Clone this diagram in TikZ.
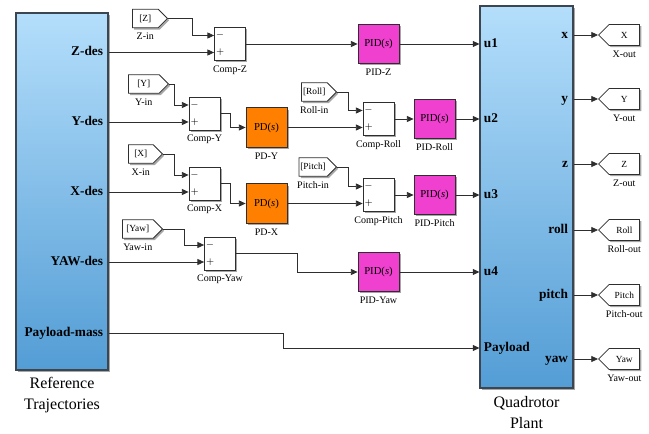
\documentclass[tikz,border=0pt]{standalone}
\usepackage{fontspec}
\setmainfont{Liberation Serif}
\newfontfamily\timesface{Liberation Serif}
\usetikzlibrary{arrows.meta,calc,shapes.symbols,shadows}
\definecolor{cline}{HTML}{2E2E2E}
\definecolor{cedge}{HTML}{3C4650}
\definecolor{skytop}{HTML}{B4DEFB}
\definecolor{skybot}{HTML}{539DD5}
\definecolor{corange}{HTML}{FF8000}
\definecolor{cmagenta}{HTML}{F040D0}

\begin{document}
\begin{tikzpicture}[x=0.75pt, y=-0.75pt,
  font=\timesface\fontsize{7.5}{9}\selectfont,
  label distance=2.5pt,
  wire/.style={draw=cline, line width=0.6pt},
  arr/.style={wire, -{Triangle[length=5pt, width=4.5pt]}},
  shadowed/.style={drop shadow={shadow xshift=1.3pt, shadow yshift=-1.3pt, fill=black, opacity=0.35}},
  plantbox/.style={draw=cedge, line width=0.8pt, top color=skytop, bottom color=skybot, shadowed, inner sep=0pt},
  sumbox/.style={draw=cline, line width=0.6pt, fill=white, minimum width=23.25pt, minimum height=24.75pt, inner sep=0pt, shadowed},
  ctrlbox/.style={draw=cline, line width=0.6pt, minimum width=30.75pt, minimum height=29.5pt, inner sep=0pt, font=\timesface\fontsize{8}{9}\selectfont, shadowed},
  fromtag/.style={signal, signal to=east, anchor=east, draw=cline, line width=0.6pt, fill=white, minimum height=14pt, inner sep=1pt, font=\timesface\fontsize{7}{8}\selectfont, shadowed},
  gototag/.style={signal, signal to=west, anchor=west, draw=cline, line width=0.6pt, fill=white, minimum width=30.75pt, minimum height=15.75pt, inner sep=1pt, font=\timesface\fontsize{7}{8}\selectfont, shadowed},
  lbl/.style={font=\timesface\fontsize{7.5}{9}\selectfont, inner sep=1pt},
  sgn/.style={font=\timesface\fontsize{7}{8}\selectfont, inner sep=0pt},
  portl/.style={anchor=east, font=\timesface\fontsize{10}{12}\selectfont\bfseries, inner sep=0.5pt, text height=7pt, text depth=2pt},
  portr/.style={portl, anchor=west},
  captxt/.style={align=center, font=\timesface\fontsize{12}{15.75}\selectfont},
]
\useasboundingbox (0,0) rectangle (649,434);

% main blocks
\node[plantbox, minimum width=69pt, minimum height=267.75pt] (ref) at (62,191.5) {};
\node[plantbox, minimum width=69.75pt, minimum height=286.5pt] (plant) at (526.5,197) {};
\node[captxt] (refcap) at (62,395.5) {Reference\\Trajectories};
\node[captxt] (plantcap) at (526.5,413) {Quadrotor\\Plant};

% ports
\node[portl] (zdes) at (104,52.5) {Z-des};
\node[portl] (ydes) at (104,122) {Y-des};
\node[portl] (xdes) at (104,192) {X-des};
\node[portl] (yawdes) at (104,262) {YAW-des};
\node[portl] (pmass) at (104,333) {Payload-mass};
\node[portr] (u1) at (483,44) {u1};
\node[portr] (u2) at (483,119) {u2};
\node[portr] (u3) at (483,195) {u3};
\node[portr] (u4) at (483,272) {u4};
\node[portr] (pload) at (483,348) {Payload};
\node[portl] (xo) at (569,35) {x};
\node[portl] (yo) at (569,99) {y};
\node[portl] (zo) at (569,164) {z};
\node[portl] (rollo) at (569,230) {roll};
\node[portl] (pitcho) at (569,295) {pitch};
\node[portl] (yawo) at (569,359) {yaw};

% comparators
\node[sumbox, label={[lbl]below:Comp-Z}] (compz) at (230,44) {};
\node[sumbox, label={[lbl]below:Comp-Y}] (compy) at (204.5,113.5) {};
\node[sumbox, label={[lbl]below:Comp-X}] (compx) at (204.5,183.5) {};
\node[sumbox, label={[lbl]below:Comp-Yaw}] (compyaw) at (220,253.5) {};
\node[sumbox, label={[lbl]below:Comp-Roll}] (comproll) at (378.5,119) {};
\node[sumbox, label={[lbl]below:Comp-Pitch}] (comppitch) at (378.5,195) {};
\foreach \cmp in {compz,compy,compx,compyaw,comproll,comppitch}{
  \coordinate (\cmp neg) at ($(\cmp.west)+(0,-8.5)$);
  \coordinate (\cmp pos) at ($(\cmp.west)+(0,8.5)$);
  \node[sgn] (\cmp mi) at ($(\cmp neg)+(6,0)$) {$-$};
  \node[sgn] (\cmp pl) at ($(\cmp pos)+(6,0)$) {$+$};
}

% controllers
\node[ctrlbox, fill=corange, label={[lbl]below:PD-Y}] (pdy) at (266.5,127.5) {PD(\textit{s})};
\node[ctrlbox, fill=corange, label={[lbl]below:PD-X}] (pdx) at (266.5,203.5) {PD(\textit{s})};
\node[ctrlbox, fill=cmagenta, label={[lbl]below:PID-Z}] (pidz) at (378.5,44) {PID(\textit{s})};
\node[ctrlbox, fill=cmagenta, label={[lbl]below:PID-Roll}] (pidroll) at (434.5,119) {PID(\textit{s})};
\node[ctrlbox, fill=cmagenta, label={[lbl]below:PID-Pitch}] (pidpitch) at (434.5,195) {PID(\textit{s})};
\node[ctrlbox, fill=cmagenta, label={[lbl]below:PID-Yaw}] (pidyaw) at (378.5,272) {PID(\textit{s})};

% from tags
\node[fromtag, minimum width=26.25pt, label={[lbl]below:Z-in}] (zin) at (168,18.5) {[Z]};
\node[fromtag, minimum width=30pt, label={[lbl]below:Y-in}] (yin) at (169,84) {[Y]};
\node[fromtag, minimum width=25.5pt, label={[lbl]below:X-in}] (xin) at (163,154) {[X]};
\node[fromtag, minimum width=30pt, label={[lbl]below:Yaw-in}] (yawin) at (163,229) {[Yaw]};
\node[fromtag, minimum width=26.25pt, label={[lbl]below:Roll-in}] (rollin) at (337,92) {[Roll]};
\node[fromtag, minimum width=26.25pt, label={[lbl]below:Pitch-in}] (pitchin) at (337,167) {[Pitch]};

% goto tags
\node[gototag, label={[lbl]below:X-out}] (xout) at (598,35) {X};
\node[gototag, label={[lbl]below:Y-out}] (yout) at (598,99) {Y};
\node[gototag, label={[lbl]below:Z-out}] (zout) at (598,164) {Z};
\node[gototag, label={[lbl]below:Roll-out}] (rollout) at (598,230) {Roll};
\node[gototag, label={[lbl]below:Pitch-out}] (pitchout) at (598,295) {Pitch};
\node[gototag, label={[lbl]below:Yaw-out}] (yawout) at (598,359) {Yaw};

% Z loop
\draw[arr] (zin.east) -- ++(24,0) |- (compzneg);
\draw[arr] (zdes -| ref.east) -- (compzpos);
\draw[arr] (compz.east) -- (pidz.west);
\draw[arr] (pidz.east) -- (u1 -| plant.west);
% Y / roll loop
\draw[arr] (yin.east) -- ++(5,0) |- (compyneg);
\draw[arr] (ydes -| ref.east) -- (compypos);
\draw[arr] (compy.east) -- ++(10,0) |- (pdy.west);
\draw[arr] (pdy.east) -- (comprollpos);
\draw[arr] (rollin.east) -- ++(11,0) |- (comprollneg);
\draw[arr] (comproll.east) -- (pidroll.west);
\draw[arr] (pidroll.east) -- (u2 -| plant.west);
% X / pitch loop
\draw[arr] (xin.east) -- ++(11,0) |- (compxneg);
\draw[arr] (xdes -| ref.east) -- (compxpos);
\draw[arr] (compx.east) -- ++(10,0) |- (pdx.west);
\draw[arr] (pdx.east) -- (comppitchpos);
\draw[arr] (pitchin.east) -- ++(11,0) |- (comppitchneg);
\draw[arr] (comppitch.east) -- (pidpitch.west);
\draw[arr] (pidpitch.east) -- (u3 -| plant.west);
% yaw loop
\draw[arr] (yawin.east) -- ++(21,0) |- (compyawneg);
\draw[arr] (yawdes -| ref.east) -- (compyawpos);
\draw[arr] (compyaw.east) -- ++(61,0) |- (pidyaw.west);
\draw[arr] (pidyaw.east) -- (u4 -| plant.west);
% payload
\draw[arr] (pmass -| ref.east) -- ++(175,0) |- (pload -| plant.west);

% outputs
\draw[arr] (xo -| plant.east) -- (xout.west);
\draw[arr] (yo -| plant.east) -- (yout.west);
\draw[arr] (zo -| plant.east) -- (zout.west);
\draw[arr] (rollo -| plant.east) -- (rollout.west);
\draw[arr] (pitcho -| plant.east) -- (pitchout.west);
\draw[arr] (yawo -| plant.east) -- (yawout.west);
\end{tikzpicture}
\end{document}
